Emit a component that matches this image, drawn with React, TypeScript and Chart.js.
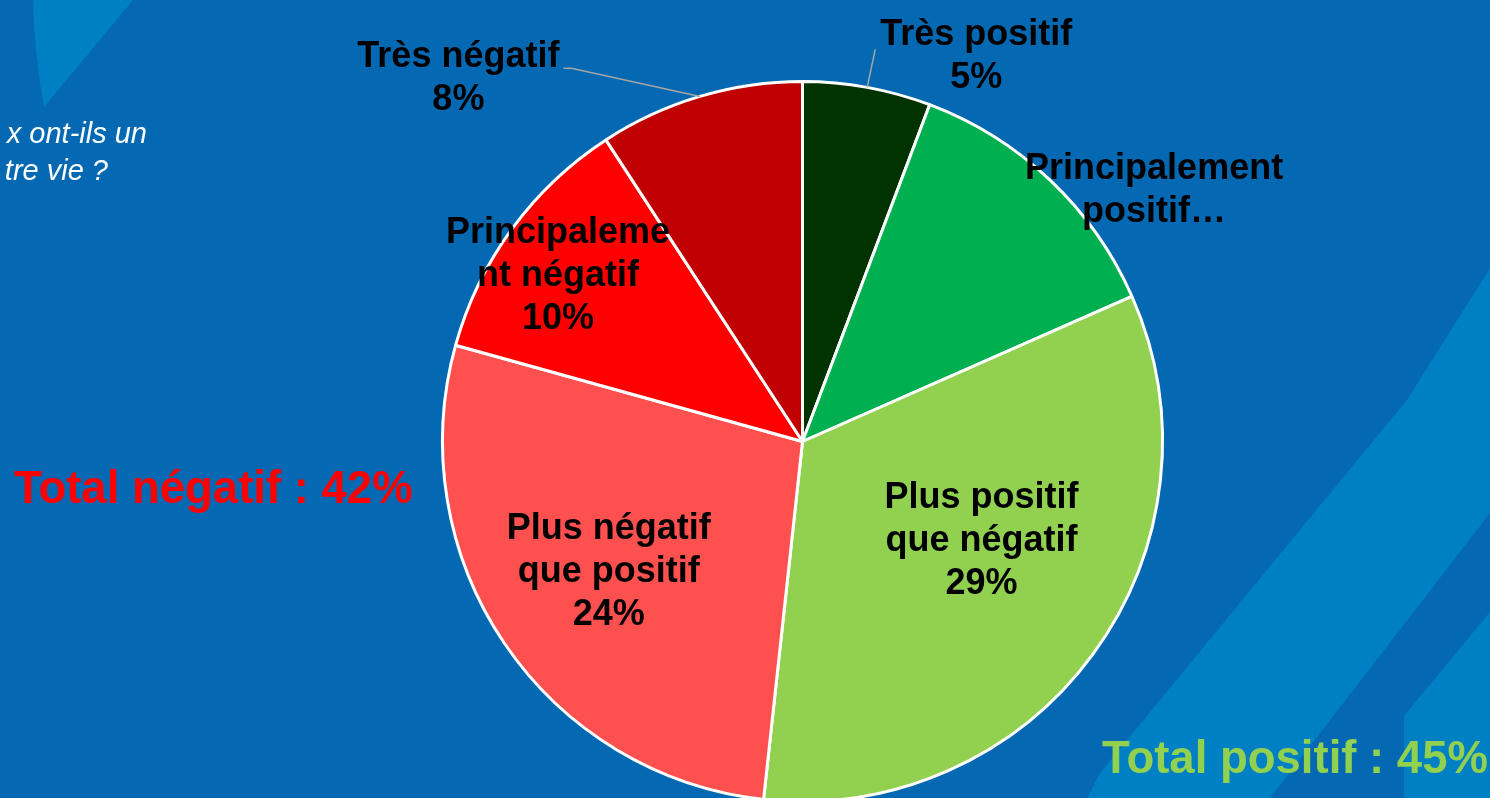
import React, { useEffect, useRef } from "react";
import { Chart, registerables } from "chart.js";

Chart.register(...registerables);

// ---- Data ----
const categories = [
  "Très positif",
  "Principalement positif",
  "Plus positif que négatif",
  "Plus négatif que positif",
  "Principalement négatif",
  "Très négatif",
];
const values = [5, 11, 29, 24, 10, 8];
const sliceColors = ["#003300", "#00B050", "#92D050", "#FF5050", "#FF0000", "#C00000"];
// How each label is written on the picture (line breaks as shown)
const labelLines = [
  ["Très positif"],
  ["Principalement", "positif…"],
  ["Plus positif", "que négatif"],
  ["Plus négatif", "que positif"],
  ["Principaleme", "nt négatif"],
  ["Très négatif"],
];
const showPercent = [true, false, true, true, true, true];
const positiveIdx = [0, 1, 2];
const negativeIdx = [3, 4, 5];
const questionLines = ["x ont-ils un", "tre vie ?"];

// ---- Label placement (angle offset from slice middle in degrees, distance in radii) ----
const labelAngleDelta = [13.8, 10.7, -7.9, 0.7, -1.6, -26.7];
const labelDist = [1.18, 1.205, 0.565, 0.645, 0.825, 1.395];
const leaderSide = ["left", null, null, null, null, "right"];

const FONT = "'Liberation Sans', Arial, sans-serif";
const BG_DARK = "#0469B2";
const BG_LIGHT = "#0080C4";

const backgroundPlugin = {
  id: "slideBackground",
  beforeDraw(chart: any) {
    const ctx = chart.ctx;
    const w = chart.width;
    const h = chart.height;
    ctx.save();
    ctx.fillStyle = BG_DARK;
    ctx.fillRect(0, 0, w, h);
    ctx.fillStyle = BG_LIGHT;
    // top-left wedge
    ctx.beginPath();
    ctx.moveTo(33, 0);
    ctx.lineTo(133, 0);
    ctx.lineTo(44, 107);
    ctx.quadraticCurveTo(34, 50, 33, 0);
    ctx.closePath();
    ctx.fill();
    // bottom-right diagonal band
    ctx.beginPath();
    ctx.moveTo(1076, 820);
    ctx.lineTo(1100, 773);
    ctx.lineTo(1327, 497);
    ctx.lineTo(1407, 400);
    ctx.lineTo(1490, 268);
    ctx.lineTo(1490, 513);
    ctx.lineTo(1253, 820);
    ctx.closePath();
    ctx.fill();
    // bottom-right corner
    ctx.beginPath();
    ctx.moveTo(1404, 820);
    ctx.lineTo(1404, 716);
    ctx.lineTo(1490, 612);
    ctx.lineTo(1490, 820);
    ctx.closePath();
    ctx.fill();
    // question text (cropped at the left edge)
    ctx.fillStyle = "#FFFFFF";
    ctx.font = `italic 29px ${FONT}`;
    ctx.textAlign = "right";
    ctx.textBaseline = "alphabetic";
    ctx.fillText(questionLines[0], 147, 143);
    ctx.fillText(questionLines[1], 108, 180);
    ctx.restore();
  },
  afterDraw(chart: any) {
    const ctx = chart.ctx;
    const pos = positiveIdx.reduce((s, i) => s + values[i], 0);
    const neg = negativeIdx.reduce((s, i) => s + values[i], 0);
    ctx.save();
    ctx.font = `bold 45.5px ${FONT}`;
    ctx.textAlign = "left";
    ctx.textBaseline = "middle";
    ctx.fillStyle = "#FF0000";
    ctx.fillText(`Total négatif : ${neg}%`, 14, 490);
    ctx.fillStyle = "#92D050";
    ctx.fillText(`Total positif : ${pos}%`, 1102, 760);
    ctx.restore();
  },
};

const labelPlugin = {
  id: "sliceLabels",
  afterDatasetsDraw(chart: any) {
    const ctx = chart.ctx;
    const meta = chart.getDatasetMeta(0);
    const lineH = 43;
    ctx.save();
    ctx.font = `bold 36px ${FONT}`;
    ctx.textAlign = "center";
    ctx.textBaseline = "middle";
    meta.data.forEach((arc: any, i: number) => {
      const p = arc.getProps(["x", "y", "startAngle", "endAngle", "outerRadius"], true);
      const mid = (p.startAngle + p.endAngle) / 2;
      const a = mid + (labelAngleDelta[i] * Math.PI) / 180;
      const cx = p.x + Math.cos(a) * labelDist[i] * p.outerRadius;
      const cy = p.y + Math.sin(a) * labelDist[i] * p.outerRadius + 3;
      const lines = [...labelLines[i]];
      if (showPercent[i]) lines.push(`${values[i]}%`);
      const y0 = cy - ((lines.length - 1) * lineH) / 2;
      // leader line
      const side = leaderSide[i];
      if (side) {
        const w1 = ctx.measureText(lines[0]).width;
        const sx = p.x + Math.cos(mid) * p.outerRadius;
        const sy = p.y + Math.sin(mid) * p.outerRadius;
        ctx.strokeStyle = "#A6A6A6";
        ctx.lineWidth = 1.5;
        ctx.beginPath();
        ctx.moveTo(sx, sy);
        if (side === "left") {
          ctx.lineTo(cx - w1 / 2 - 5, y0 + 14);
        } else {
          ctx.lineTo(cx + w1 / 2 + 12, y0 + 11);
          ctx.lineTo(cx + w1 / 2 + 4, y0 + 11);
        }
        ctx.stroke();
      }
      ctx.fillStyle = "#000000";
      lines.forEach((t, k) => ctx.fillText(t, cx, y0 + k * lineH));
    });
    ctx.restore();
  },
};

export default function App() {
  const ref = useRef<HTMLCanvasElement | null>(null);
  useEffect(() => {
    if (!ref.current) return;
    const chart = new Chart(ref.current, {
      type: "pie",
      data: {
        labels: categories,
        datasets: [
          {
            data: values,
            backgroundColor: sliceColors,
            borderColor: "#FFFFFF",
            borderWidth: 3,
          },
        ],
      },
      options: {
        responsive: false,
        animation: false,
        devicePixelRatio: 1,
        layout: { padding: { left: 441, right: 326, top: 80, bottom: 17 } },
        plugins: {
          legend: { display: false },
          tooltip: { enabled: false },
        },
      },
      plugins: [backgroundPlugin, labelPlugin],
    });
    return () => chart.destroy();
  }, []);
  return (
    <div
      style={{
        position: "fixed",
        left: 0,
        top: 0,
        width: 1490,
        height: 798,
        overflow: "hidden",
        background: BG_DARK,
      }}
    >
      <canvas ref={ref} width={1490} height={820} style={{ display: "block", width: 1490, height: 820 }} />
    </div>
  );
}
